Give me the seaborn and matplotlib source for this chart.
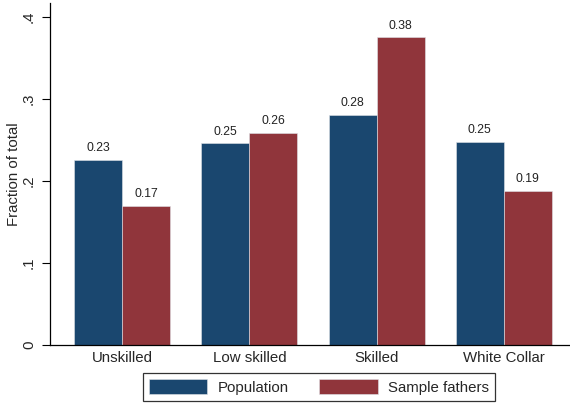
import matplotlib
matplotlib.use("Agg")
import matplotlib.pyplot as plt
import seaborn as sns
import pandas as pd

categories = ["Unskilled", "Low skilled", "Skilled", "White Collar"]
series_names = ["Population", "Sample fathers"]
population = [0.226, 0.246, 0.281, 0.248]
sample_fathers = [0.170, 0.259, 0.375, 0.188]
y_ticks = [0, 0.1, 0.2, 0.3, 0.4]
y_tick_labels = ["0", ".1", ".2", ".3", ".4"]

df = pd.DataFrame({
    "category": categories * 2,
    "group": [series_names[0]] * 4 + [series_names[1]] * 4,
    "value": population + sample_fathers,
})

sns.set_theme(style="white")
plt.rcParams["font.family"] = ["Liberation Sans", "DejaVu Sans"]

fig = plt.figure(figsize=(5.7, 4.05), dpi=100)
ax = fig.add_axes([50 / 570, 60 / 405, 1 - 50 / 570, 342 / 405])

palette = {"Population": "#1a476f", "Sample fathers": "#90353b"}
sns.barplot(data=df, x="category", y="value", hue="group", order=categories,
            hue_order=series_names, palette=palette, width=0.756, gap=0,
            saturation=1, edgecolor="#dfe3e8", linewidth=0.4, ax=ax, legend=True)

for cont in ax.containers:
    ax.bar_label(cont, fmt="%.2f", padding=4, fontsize=8.8, color="#222222")

ax.set_xlim(-0.567, 3.52)
ax.set_ylim(0, 0.417)
ax.set_yticks(y_ticks)
ax.set_yticklabels(y_tick_labels, rotation=90, va="center", fontsize=10.8)
ax.set_ylabel("Fraction of total", fontsize=10.8)
ax.yaxis.set_label_coords(-0.055, 0.5)
ax.set_xlabel("")
ax.tick_params(axis="x", length=0, labelsize=10.8, pad=4)
ax.tick_params(axis="y", length=6, width=0.8, color="black", left=True, pad=4)
for s in ["top", "right"]:
    ax.spines[s].set_visible(False)
for s in ["left", "bottom"]:
    ax.spines[s].set_color("black")
    ax.spines[s].set_linewidth(0.9)

handles, labels = ax.get_legend_handles_labels()
ax.get_legend().remove()
leg = fig.legend(handles, labels, loc="center", bbox_to_anchor=(319 / 570, 18 / 405),
                 ncol=2, frameon=True, fancybox=False, fontsize=10.8,
                 handlelength=3.9, handleheight=1.1, columnspacing=2.0,
                 handletextpad=0.7, borderpad=0.42, borderaxespad=0)
leg.get_frame().set_edgecolor("black")
leg.get_frame().set_linewidth(0.9)

fig.savefig("out.png", dpi=100)
